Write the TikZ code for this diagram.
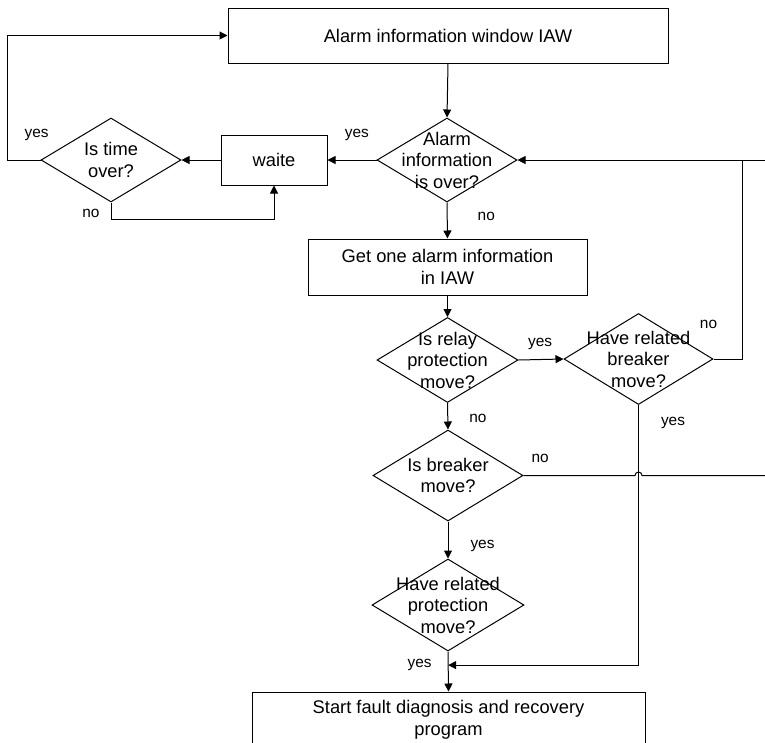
\documentclass[tikz,border=0pt]{standalone}
\usepackage{fontspec}
\setmainfont{Liberation Sans}
\usetikzlibrary{shapes.geometric,arrows.meta}

\begin{document}
\begin{tikzpicture}[x=1pt,y=-1pt,line width=1pt,
    box/.style={draw, rectangle, inner sep=0pt},
    dia/.style={draw, diamond, inner sep=0pt},
    txt/.style={align=center, font=\fontsize{18.3}{22.5}\selectfont},
    dtxt/.style={align=center, font=\fontsize{18.3}{21.5}\selectfont},
    lbl/.style={font=\fontsize{15.4}{18}\selectfont, inner sep=0pt},
    arr/.style={-{Triangle[length=8pt,width=8pt]}}]
    \useasboundingbox (0,0) rectangle (765,742);

    % Boxes
    \node[box, txt, minimum width=440pt, minimum height=55pt] (iaw) at (448,35.5) {Alarm information window IAW};
    \node[box, txt, minimum width=106pt, minimum height=50pt] (wait) at (274,160) {waite};
    \node[box, txt, minimum width=279pt, minimum height=56pt] (get) at (447.5,267) {Get one alarm information\\in IAW};
    \node[box, txt, minimum width=393pt, minimum height=56pt] (start) at (448.5,720) {Start fault diagnosis and recovery\\program};

    % Decisions
    \node[dia, minimum width=140pt, minimum height=84pt] (over) at (447,160) {};
    \node[dtxt] (over-t) at (over) {Alarm\\information\\is over?};
    \node[dia, minimum width=140pt, minimum height=84pt] (time) at (111,160) {};
    \node[dtxt] (time-t) at (time) {Is time\\over?};
    \node[dia, minimum width=141pt, minimum height=85pt] (relay) at (447.5,360) {};
    \node[dtxt] (relay-t) at (relay) {Is relay\\protection\\move?};
    \node[dia, minimum width=149pt, minimum height=91pt] (rbrk) at (638.5,359) {};
    \node[dtxt] (rbrk-t) at (rbrk) {Have related\\breaker\\move?};
    \node[dia, minimum width=150pt, minimum height=91pt] (brk) at (448,475.5) {};
    \node[dtxt] (brk-t) at (brk) {Is breaker\\move?};
    \node[dia, minimum width=152pt, minimum height=92pt] (prot) at (448,605) {};
    \node[dtxt] (prot-t) at (prot) {Have related\\protection\\move?};

    % Free ends and joints
    \coordinate (offA) at (765,160);
    \coordinate (offB) at (765,475.5);
    \coordinate (hop) at (rbrk.south |- brk.east);

    % Main line
    \draw[arr] (iaw.south) -- (over.north);
    \draw[arr] (over.south) -- node[lbl, pos=0.4, right=30pt] (over-no) {no} (get.north);
    \draw[arr] (get.south) -- (relay.north);
    \draw[arr] (relay.south) -- node[lbl, pos=0.57, right=21pt] (relay-no) {no} (brk.north);
    \draw[arr] (brk.south) -- node[lbl, pos=0.66, right=22pt] (brk-yes) {yes} (prot.north);
    \draw[arr] (prot.south) -- coordinate[pos=0.34] (merge)
        node[lbl, pos=0.34, left=16pt] (prot-yes) {yes} (start.north);

    % Waiting loop
    \draw[arr] (over.west) -- node[lbl, pos=0.4, above=19pt] (over-yes) {yes} (wait.east);
    \draw[arr] (wait.west) -- (time.east);
    \draw[arr] (time.south) -- node[lbl, pos=0.65, left=11pt] (time-no) {no} ++(0,17) -| (wait.south);
    \draw[arr] (time.west) -- node[lbl, pos=0.12, above=19pt] (time-yes) {yes} ++(-33,0) |- (iaw.west);

    % Breaker check
    \draw[arr] (relay.east) -- node[lbl, pos=0.48, above=9pt] (relay-yes) {yes} (rbrk.west);
    \draw[arr] (rbrk.east) -- node[lbl, pos=0, above=30pt, xshift=-5pt] (rbrk-no) {no} ++(29,0) coordinate (jA) |- (over.east);
    \coordinate (jB) at (jA |- over.east);
    \draw (jB) -- (offA);
    \draw[arr] (rbrk.south) |- node[lbl, pos=0.035, right=22pt] (rbrk-yes) {yes} (merge);
    \draw (brk.east) -- node[lbl, pos=0.15, above=12pt] (brk-no) {no} ([xshift=-3.5pt]hop)
        arc[start angle=180, end angle=0, radius=3.5pt] -- (offB);
\end{tikzpicture}
\end{document}
